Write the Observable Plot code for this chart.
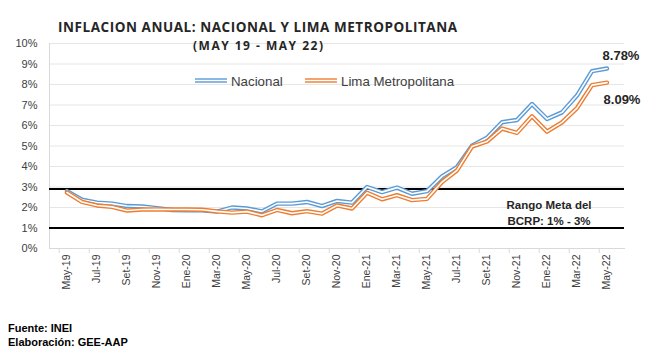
<!DOCTYPE html>
<html><head><meta charset="utf-8">
<script src="https://cdn.jsdelivr.net/npm/d3@7"></script>
<script src="https://cdn.jsdelivr.net/npm/@observablehq/plot@0.6"></script>
<style>
html,body{margin:0;padding:0;background:#fff;}
#wrap{position:relative;width:659px;height:358px;overflow:hidden;background:#fff;}
#wrap > svg{position:absolute;left:0;top:0;}
</style></head><body><div id="wrap"></div>
<script>
const months = ["May-19","Jun-19","Jul-19","Ago-19","Set-19","Oct-19","Nov-19","Dic-19","Ene-20","Feb-20","Mar-20","Abr-20","May-20","Jun-20","Jul-20","Ago-20","Set-20","Oct-20","Nov-20","Dic-20","Ene-21","Feb-21","Mar-21","Abr-21","May-21","Jun-21","Jul-21","Ago-21","Set-21","Oct-21","Nov-21","Dic-21","Ene-22","Feb-22","Mar-22","Abr-22","May-22"];
const nacional = [2.80,2.38,2.24,2.19,2.07,2.05,1.97,1.88,1.86,1.86,1.80,2.00,1.95,1.81,2.19,2.19,2.27,2.07,2.32,2.24,3.00,2.75,2.97,2.67,2.80,3.52,3.97,5.01,5.40,6.16,6.27,7.05,6.32,6.64,7.46,8.65,8.78];
const lima = [2.73,2.27,2.10,2.03,1.85,1.90,1.91,1.90,1.90,1.89,1.81,1.75,1.80,1.62,1.88,1.72,1.82,1.70,2.10,1.95,2.72,2.40,2.60,2.36,2.42,3.24,3.81,4.97,5.22,5.85,5.64,6.45,5.70,6.15,6.85,7.97,8.09];
const rangoMeta = [1, 2.9];
const yTicks = [0,1,2,3,4,5,6,7,8,9,10];
const xLabels = months.filter((d, i) => i % 2 === 0);
const serieNames = ["Nacional", "Lima Metropolitana"];
const serieColors = ["#5b9bd5", "#ed7d31"];
const lastLabels = ["8.78%", "8.09%"];
const rangoTexto = "Rango Meta del\nBCRP: 1% - 3%";
const titulo = "INFLACION ANUAL: NACIONAL Y LIMA METROPOLITANA";
const subtitulo = "(MAY 19 - MAY 22)";
const fuente = "Fuente: INEI";
const elaboracion = "Elaboración: GEE-AAP";

const W = 659, H = 358, mL = 49, mR = 35, mT = 43, mB = 110;
const bw = (W - mL - mR) / months.length;
const natData = months.map((m, i) => ({mes: m, valor: nacional[i]}));
const limaData = months.map((m, i) => ({mes: m, valor: lima[i]}));
const last = months[months.length - 1];
const font = "'Liberation Sans', Arial, sans-serif";

const chart = Plot.plot({
  width: W, height: H, marginLeft: mL, marginRight: mR, marginTop: mT, marginBottom: mB,
  style: {fontFamily: font, background: "transparent", overflow: "visible"},
  x: {type: "band", domain: months, padding: 0},
  y: {domain: [0, 10]},
  marks: [
    Plot.gridY(yTicks, {stroke: "#e6e6e6", strokeOpacity: 1}),
    Plot.frame({anchor: "left", stroke: "#d9d9d9"}),
    Plot.frame({anchor: "bottom", stroke: "#d9d9d9"}),
    Plot.axisY(yTicks, {tickSize: 0, tickPadding: 12, tickFormat: d => d + "%", fontSize: 11, fill: "#404040", label: null}),
    Plot.axisX(xLabels, {tickSize: 0, tickPadding: 6, tickRotate: -90, fontSize: 10.5, fill: "#404040", label: null}),
    Plot.axisX(xLabels, {tickSize: 5, text: null, dx: -bw / 2, stroke: "#d9d9d9", label: null}),
    Plot.ruleY(rangoMeta, {stroke: "#000", strokeWidth: 2}),
    Plot.lineY(natData, {x: "mes", y: "valor", stroke: serieColors[0], strokeWidth: 4.4}),
    Plot.lineY(natData, {x: "mes", y: "valor", stroke: "#fff", strokeWidth: 1.6}),
    Plot.lineY(limaData, {x: "mes", y: "valor", stroke: serieColors[1], strokeWidth: 4.4}),
    Plot.lineY(limaData, {x: "mes", y: "valor", stroke: "#fff", strokeWidth: 1.6}),
    Plot.text([lastLabels[0]], {x: () => last, y: () => nacional[nacional.length - 1], text: d => d, dx: 14, dy: -13, fontSize: 13, fontWeight: "bold", fill: "#262626"}),
    Plot.text([lastLabels[1]], {x: () => last, y: () => lima[lima.length - 1], text: d => d, dx: 15, dy: 17, fontSize: 13, fontWeight: "bold", fill: "#262626"}),
    Plot.text([rangoTexto], {x: () => "Ene-22", y: () => d3.mean(rangoMeta), text: d => d, dx: 2, dy: 3, fontSize: 11.5, fontWeight: "bold", fill: "#262626", lineHeight: 1.4})
  ]
});
document.getElementById("wrap").appendChild(chart);

// overlay: title, subtitle, legend, footer
const ns = "http://www.w3.org/2000/svg";
const ov = d3.select("#wrap").append("svg").attr("width", W).attr("height", H).attr("xmlns", ns);
ov.append("text").attr("x", 257.5).attr("y", 31.5).attr("text-anchor", "middle")
  .attr("font-family", "'Open Sans', sans-serif").attr("font-weight", "bold").attr("font-size", 13.5)
  .attr("textLength", 399).attr("lengthAdjust", "spacing").attr("fill", "#262626").text(titulo);
ov.append("text").attr("x", 258).attr("y", 49.5).attr("text-anchor", "middle")
  .attr("font-family", "'Open Sans', sans-serif").attr("font-weight", "bold").attr("font-size", 12)
  .attr("textLength", 130).attr("lengthAdjust", "spacing").attr("fill", "#262626").text(subtitulo);
const leg = [{x: 195, tx: 231}, {x: 305, tx: 341}];
leg.forEach((p, i) => {
  ov.append("line").attr("x1", p.x).attr("x2", p.x + 32).attr("y1", 80.5).attr("y2", 80.5).attr("stroke", serieColors[i]).attr("stroke-width", 4.4);
  ov.append("line").attr("x1", p.x).attr("x2", p.x + 32).attr("y1", 80.5).attr("y2", 80.5).attr("stroke", "#fff").attr("stroke-width", 1.6);
  ov.append("text").attr("x", p.tx).attr("y", 85.5).attr("font-family", font).attr("font-size", 13.3).attr("fill", "#404040").text(serieNames[i]);
});
ov.append("text").attr("x", 8).attr("y", 331.5).attr("font-family", font).attr("font-weight", "bold").attr("font-size", 11).attr("fill", "#000").text(fuente);
ov.append("text").attr("x", 8).attr("y", 345.5).attr("font-family", font).attr("font-weight", "bold").attr("font-size", 11).attr("fill", "#000").text(elaboracion);
</script></body></html>
